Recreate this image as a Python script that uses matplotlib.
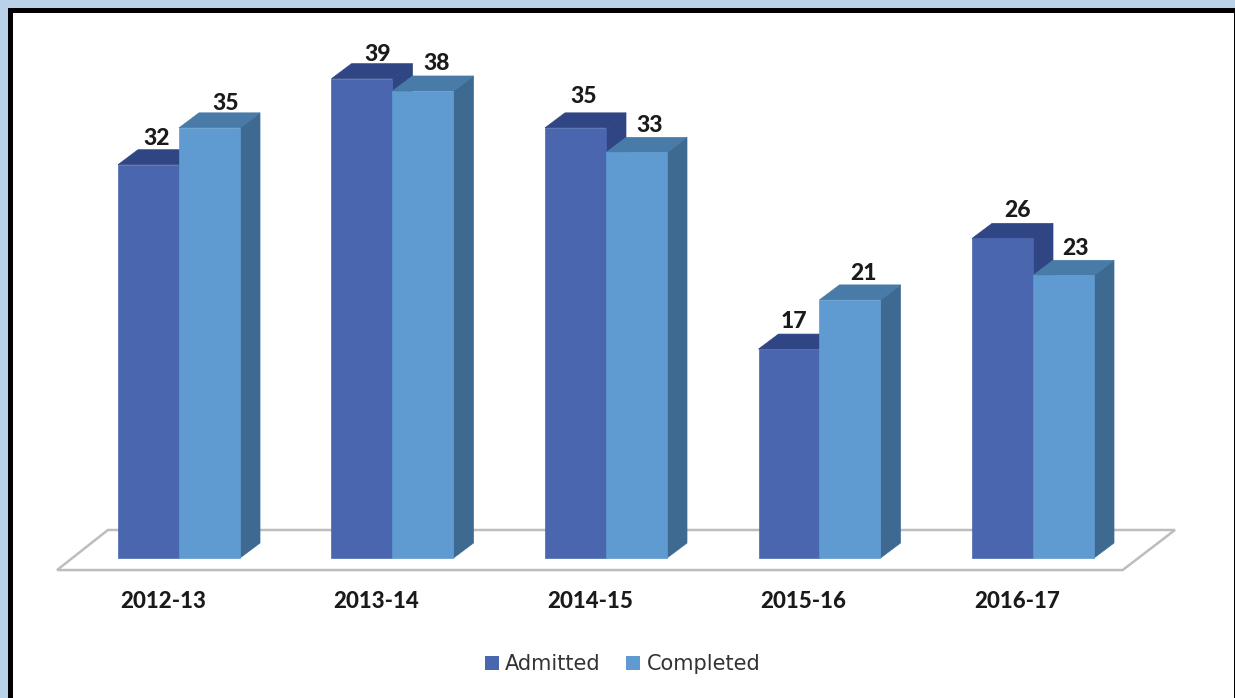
import matplotlib
matplotlib.use('Agg')
import matplotlib.pyplot as plt
from matplotlib.patches import Rectangle, Polygon

# data
years = ['2012-13', '2013-14', '2014-15', '2015-16', '2016-17']
admitted = [32, 39, 35, 17, 26]
completed = [35, 38, 33, 21, 23]

# label nudges in pixels (x, y above bar top), the original labels were moved by hand
admitted_nudge = [(8, 26), (16, 24), (8, 31), (5, 28), (15, 28)]
completed_nudge = [(16, 24), (14, 27), (13, 27), (14, 26), (12, 27)]

plt.rcParams['font.family'] = ['Lato', 'DejaVu Sans']

W, H = 1235, 698
px_per_cat = 213.5
px_per_val = 12.29
base_x, base_y = 179, 558
bar_w = 61 / px_per_cat
depth_x = 20 / px_per_cat
depth_y = 15 / px_per_val

fig = plt.figure(figsize=(W / 100, H / 100), dpi=100, facecolor='#B9D2EA')

# frame
fig.patches.append(Rectangle((8 / W, 0), (W - 8) / W, 1 - 8 / H, transform=fig.transFigure,
                             fc='black', ec='none', zorder=-2))
fig.patches.append(Rectangle((13 / W, 0), (W - 14) / W, 1 - 13 / H, transform=fig.transFigure,
                             fc='white', ec='none', zorder=-1))

ax = fig.add_axes([0, 0, 1, 1])
ax.patch.set_alpha(0)
ax.set_xlim(-base_x / px_per_cat, (W - base_x) / px_per_cat)
ax.set_ylim((base_y - H) / px_per_val, base_y / px_per_val)
ax.axis('off')

# floor
floor = [(-0.571, -0.98), (-0.333, 2.28), (4.665, 2.28), (4.42, -0.98)]
ax.add_patch(Polygon(floor, closed=True, fc='white', ec='#BDBDBD', lw=1.8, joinstyle='miter'))


def bar3d(x0, val, face, top, side, z):
    x1 = x0 + bar_w
    ax.add_patch(Polygon([(x1, 0), (x1 + depth_x, depth_y), (x1 + depth_x, val + depth_y), (x1, val)],
                         fc=side, ec=side, lw=0.5, zorder=z))
    ax.add_patch(Polygon([(x0, val), (x0 + depth_x, val + depth_y), (x1 + depth_x, val + depth_y), (x1, val)],
                         fc=top, ec=top, lw=0.5, zorder=z))
    ax.add_patch(Rectangle((x0, 0), bar_w, val, fc=face, ec=face, lw=0.5, zorder=z))


for i, year in enumerate(years):
    bar3d(i - bar_w, admitted[i], '#4A66AF', '#2F4584', '#2F4584', 3)
    bar3d(i, completed[i], '#5F9BD0', '#487BA8', '#3E6A92', 4)

    ax.annotate(str(admitted[i]), (i - bar_w / 2, admitted[i]), xytext=admitted_nudge[i],
                textcoords='offset pixels', ha='center', va='center',
                fontsize=16.5, fontweight='black', color='#1A1A1A', zorder=6)
    ax.annotate(str(completed[i]), (i + bar_w / 2, completed[i]), xytext=completed_nudge[i],
                textcoords='offset pixels', ha='center', va='center',
                fontsize=16.5, fontweight='black', color='#1A1A1A', zorder=6)
    ax.text(i - 16 / px_per_cat, -44 / px_per_val, year, ha='center', va='center',
            fontsize=16, fontweight='black', color='#1A1A1A')

# legend
handles = [Rectangle((0, 0), 1, 1, fc='#4A66AF'), Rectangle((0, 0), 1, 1, fc='#5F9BD0')]
ax.legend(handles, ['Admitted', 'Completed'], ncol=2, frameon=False, loc='center',
          bbox_to_anchor=(622.5 / W, 1 - 664 / H), prop={'family': 'DejaVu Sans', 'size': 15},
          labelcolor='#333333', handlelength=0.67, handleheight=0.65, handletextpad=0.29,
          columnspacing=1.25, borderpad=0)

fig.savefig('out.png', dpi=100, facecolor=fig.get_facecolor())
